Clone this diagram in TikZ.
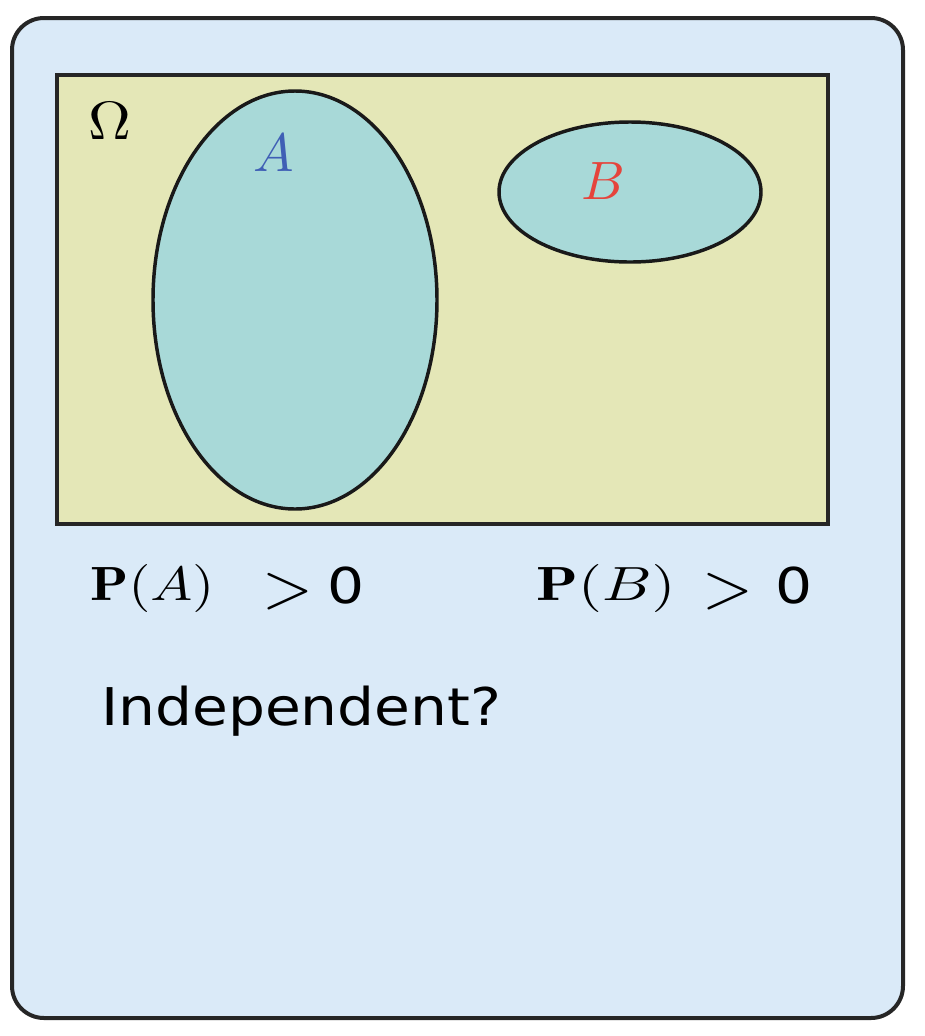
\documentclass[tikz,border=0pt]{standalone}
\usepackage{fontspec}
\usetikzlibrary{shapes.geometric}
\newfontfamily\dvs{DejaVu Sans}
\definecolor{panelblue}{HTML}{DAEAF8}
\definecolor{omegafill}{HTML}{E4E7B7}
\definecolor{setfill}{HTML}{A8D9D8}
\definecolor{labblue}{HTML}{3F5FB5}
\definecolor{labred}{HTML}{E5443C}
\newcommand{\labmath}[1]{\scalebox{4.05}{$#1$}}
\newcommand{\gtsign}{\raisebox{-5.5pt}{\scalebox{4.9}[4.75]{$>$}}}
\newcommand{\zerodigit}{\raisebox{-2.5pt}{\dvs\fontsize{37}{42}\selectfont\scalebox{1.18}[1]{0}}}
\tikzset{
  panel/.style={draw=black!85, line width=3pt, fill=panelblue, rounded corners=24pt},
  space/.style={draw=black!85, line width=3pt, fill=omegafill, rectangle, inner sep=0pt},
  setshape/.style={draw=black!90, line width=2.6pt, fill=setfill, ellipse, inner sep=0pt},
  biglab/.style={inner sep=0pt},
  probtxt/.style={inner sep=0pt, anchor=base west},
  qtxt/.style={inner sep=0pt, anchor=base west, font=\dvs\fontsize{39}{46}\selectfont}
}
\begin{document}
\begin{tikzpicture}[x=0.75pt,y=-0.75pt]
\useasboundingbox (0,0) rectangle (925,1036);
\draw[panel] (12,18) rectangle (903,1018);
\node[space, minimum width=578.25pt, minimum height=336.75pt] (omega) at (442.5,299.5) {};
\node[setshape, minimum width=213pt, minimum height=313.5pt] (setA) at (295,300) {};
\node[setshape, minimum width=196.5pt, minimum height=105pt] (setB) at (630,192) {};
\node[biglab] (omegalab) at (110,121) {\scalebox{4.45}[4.05]{$\Omega$}};
\node[biglab, text=labblue] (alab) at (274,153) {\labmath{A}};
\node[biglab, text=labred] (blab) at (603,181) {\labmath{B}};
\node[probtxt] (pa) at (90,600) {\scalebox{4.2}[3.6]{$\mathbf{P}(A)$}\hspace{36pt}\gtsign\hspace{11pt}\zerodigit};
\node[probtxt] (pb) at (536,600) {\scalebox{4.6}[3.6]{$\mathbf{P}(B)$}\hspace{20pt}\gtsign\hspace{17pt}\zerodigit};
\node[qtxt] (indep) at (101,725) {\scalebox{1.12}[1]{Independent?}};
\end{tikzpicture}
\end{document}
